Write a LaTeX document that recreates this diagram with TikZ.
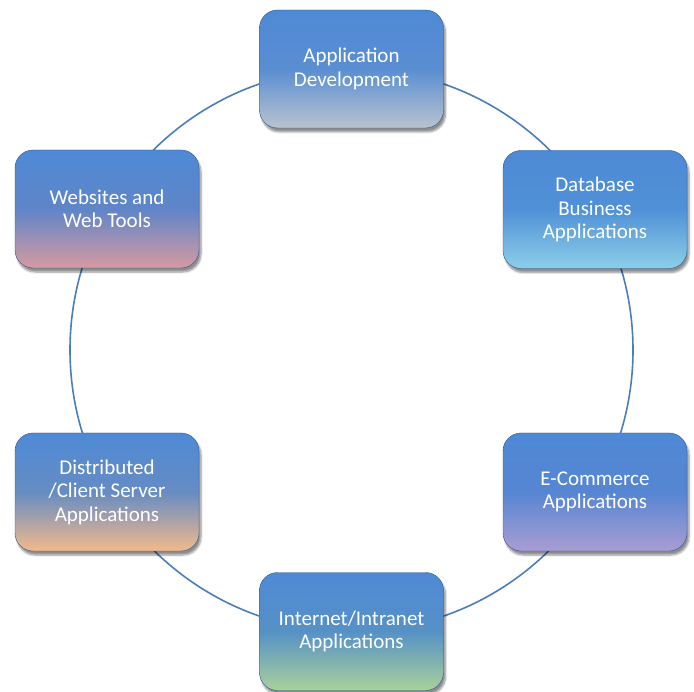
\documentclass[tikz,border=0pt]{standalone}
\usepackage{fontspec}
\setmainfont{Carlito}
\usetikzlibrary{shadows.blur}
\definecolor{topblue}{HTML}{3F7FD2}
\definecolor{ringblue}{HTML}{4A7EBB}
\definecolor{cGrey}{HTML}{B9C3CF}
\definecolor{cPink}{HTML}{D69AA2}
\definecolor{cSky}{HTML}{8DCFE8}
\definecolor{cPeach}{HTML}{F2BA8A}
\definecolor{cLav}{HTML}{A99DD3}
\definecolor{cGreen}{HTML}{A9D199}
\tikzset{
  stage/.style={rounded corners=18pt, minimum width=184pt, minimum height=118pt,
    align=center, text=white, font=\fontsize{21}{23.5}\selectfont,
    draw=topblue!70!black, line width=0.4pt,
    blur shadow={shadow xshift=2pt, shadow yshift=-4pt, shadow blur steps=6, shadow opacity=45}},
  ring/.style={draw=ringblue, line width=1.6pt},
  fillto/.style={top color=topblue!92!white, bottom color=#1, middle color=topblue!78!#1}
}
\begin{document}
\begin{tikzpicture}[x=1pt,y=-1pt]
\useasboundingbox (0,0) rectangle (694,692);
\coordinate (ctr) at (351.5,350);
\draw[ring] (ctr) circle [radius=281.5pt];
\node[stage, fillto=cGrey] (dev) at (351.5,69) {Application\\Development};
\node[stage, fillto=cPink] (web) at (107,209) {Websites and\\Web Tools};
\node[stage, fillto=cSky] (db) at (595,209.5) {Database\\Business\\Applications};
\node[stage, fillto=cPeach] (dist) at (107,492) {Distributed\\/Client Server\\Applications};
\node[stage, fillto=cLav] (ecom) at (595,492) {E-Commerce\\Applications};
\node[stage, fillto=cGreen] (net) at (351.5,631.5) {Internet/Intranet\\Applications};
\end{tikzpicture}
\end{document}
